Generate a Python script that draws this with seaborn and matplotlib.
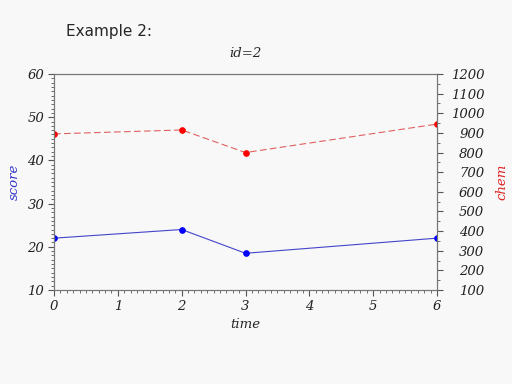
import pandas as pd
import matplotlib.pyplot as plt
import seaborn as sns
from matplotlib.ticker import MultipleLocator

# values
time = [0, 2, 3, 6]
score = [22, 24, 18.5, 22]
chem = [895, 915, 800, 945]

df = pd.DataFrame({'time': time, 'score': score, 'chem': chem})

sns.set_style('white')
plt.rcParams['font.family'] = ['DejaVu Sans']
plt.rcParams['xtick.bottom'] = True
plt.rcParams['ytick.left'] = True

fig = plt.figure(figsize=(5.12, 3.84), dpi=100)
fig.patch.set_facecolor('#f8f8f8')
ax = fig.add_axes([0.1055, 0.2448, 0.748, 0.5625])
ax.set_facecolor('#f8f8f8')
ax2 = ax.twinx()

sns.lineplot(data=df, x='time', y='score', ax=ax, color='#4444cc', lw=0.8,
             marker='o', markersize=4, markerfacecolor='#0000ff', markeredgecolor='#0000ff')
sns.lineplot(data=df, x='time', y='chem', ax=ax2, color='#e06060', lw=0.8,
             linestyle=(0, (6, 3)), marker='o', markersize=4,
             markerfacecolor='#ff0000', markeredgecolor='#ff0000')

tickfont = dict(family='DejaVu Serif', style='italic', size=9.5)

ax.set_xlim(0, 6)
ax.set_ylim(10, 60)
ax2.set_ylim(100, 1200)
ax.xaxis.set_major_locator(MultipleLocator(1))
ax.xaxis.set_minor_locator(MultipleLocator(0.1))
ax.yaxis.set_major_locator(MultipleLocator(10))
ax.yaxis.set_minor_locator(MultipleLocator(1))
ax2.yaxis.set_major_locator(MultipleLocator(100))
ax2.yaxis.set_minor_locator(MultipleLocator(50))

ax.tick_params(axis='x', which='both', bottom=True, top=False)
ax.tick_params(axis='y', which='both', left=True, right=False)
ax2.tick_params(axis='y', which='both', left=False, right=True)
for a in (ax, ax2):
    a.tick_params(which='major', direction='out', length=4, width=0.8, color='#555555', pad=3)
    a.tick_params(which='minor', direction='out', length=2, width=0.6, color='#555555')
    for s in a.spines.values():
        s.set_color('#777777')
        s.set_linewidth(0.8)
    for lbl in a.get_xticklabels() + a.get_yticklabels():
        lbl.set_fontfamily('DejaVu Serif')
        lbl.set_fontstyle('italic')
        lbl.set_fontsize(9.5)
        lbl.set_color('#222222')
ax2.tick_params(axis='y', which='major', pad=30)
for lbl in ax2.get_yticklabels():
    lbl.set_horizontalalignment('right')

ax.set_xlabel('time', fontdict=tickfont, labelpad=4)
ax.set_ylabel('score', fontdict=tickfont, color='#3333cc', labelpad=5)
ax2.set_ylabel('chem', fontdict=tickfont, color='#dd2222', labelpad=8)
ax.set_title('id=2', fontdict=dict(family='DejaVu Serif', style='italic', size=9.5), pad=12)

fig.text(0.128, 0.918, 'Example 2:', fontsize=11, family='DejaVu Sans', va='center')

plt.savefig('out.png', dpi=100)
plt.close()
